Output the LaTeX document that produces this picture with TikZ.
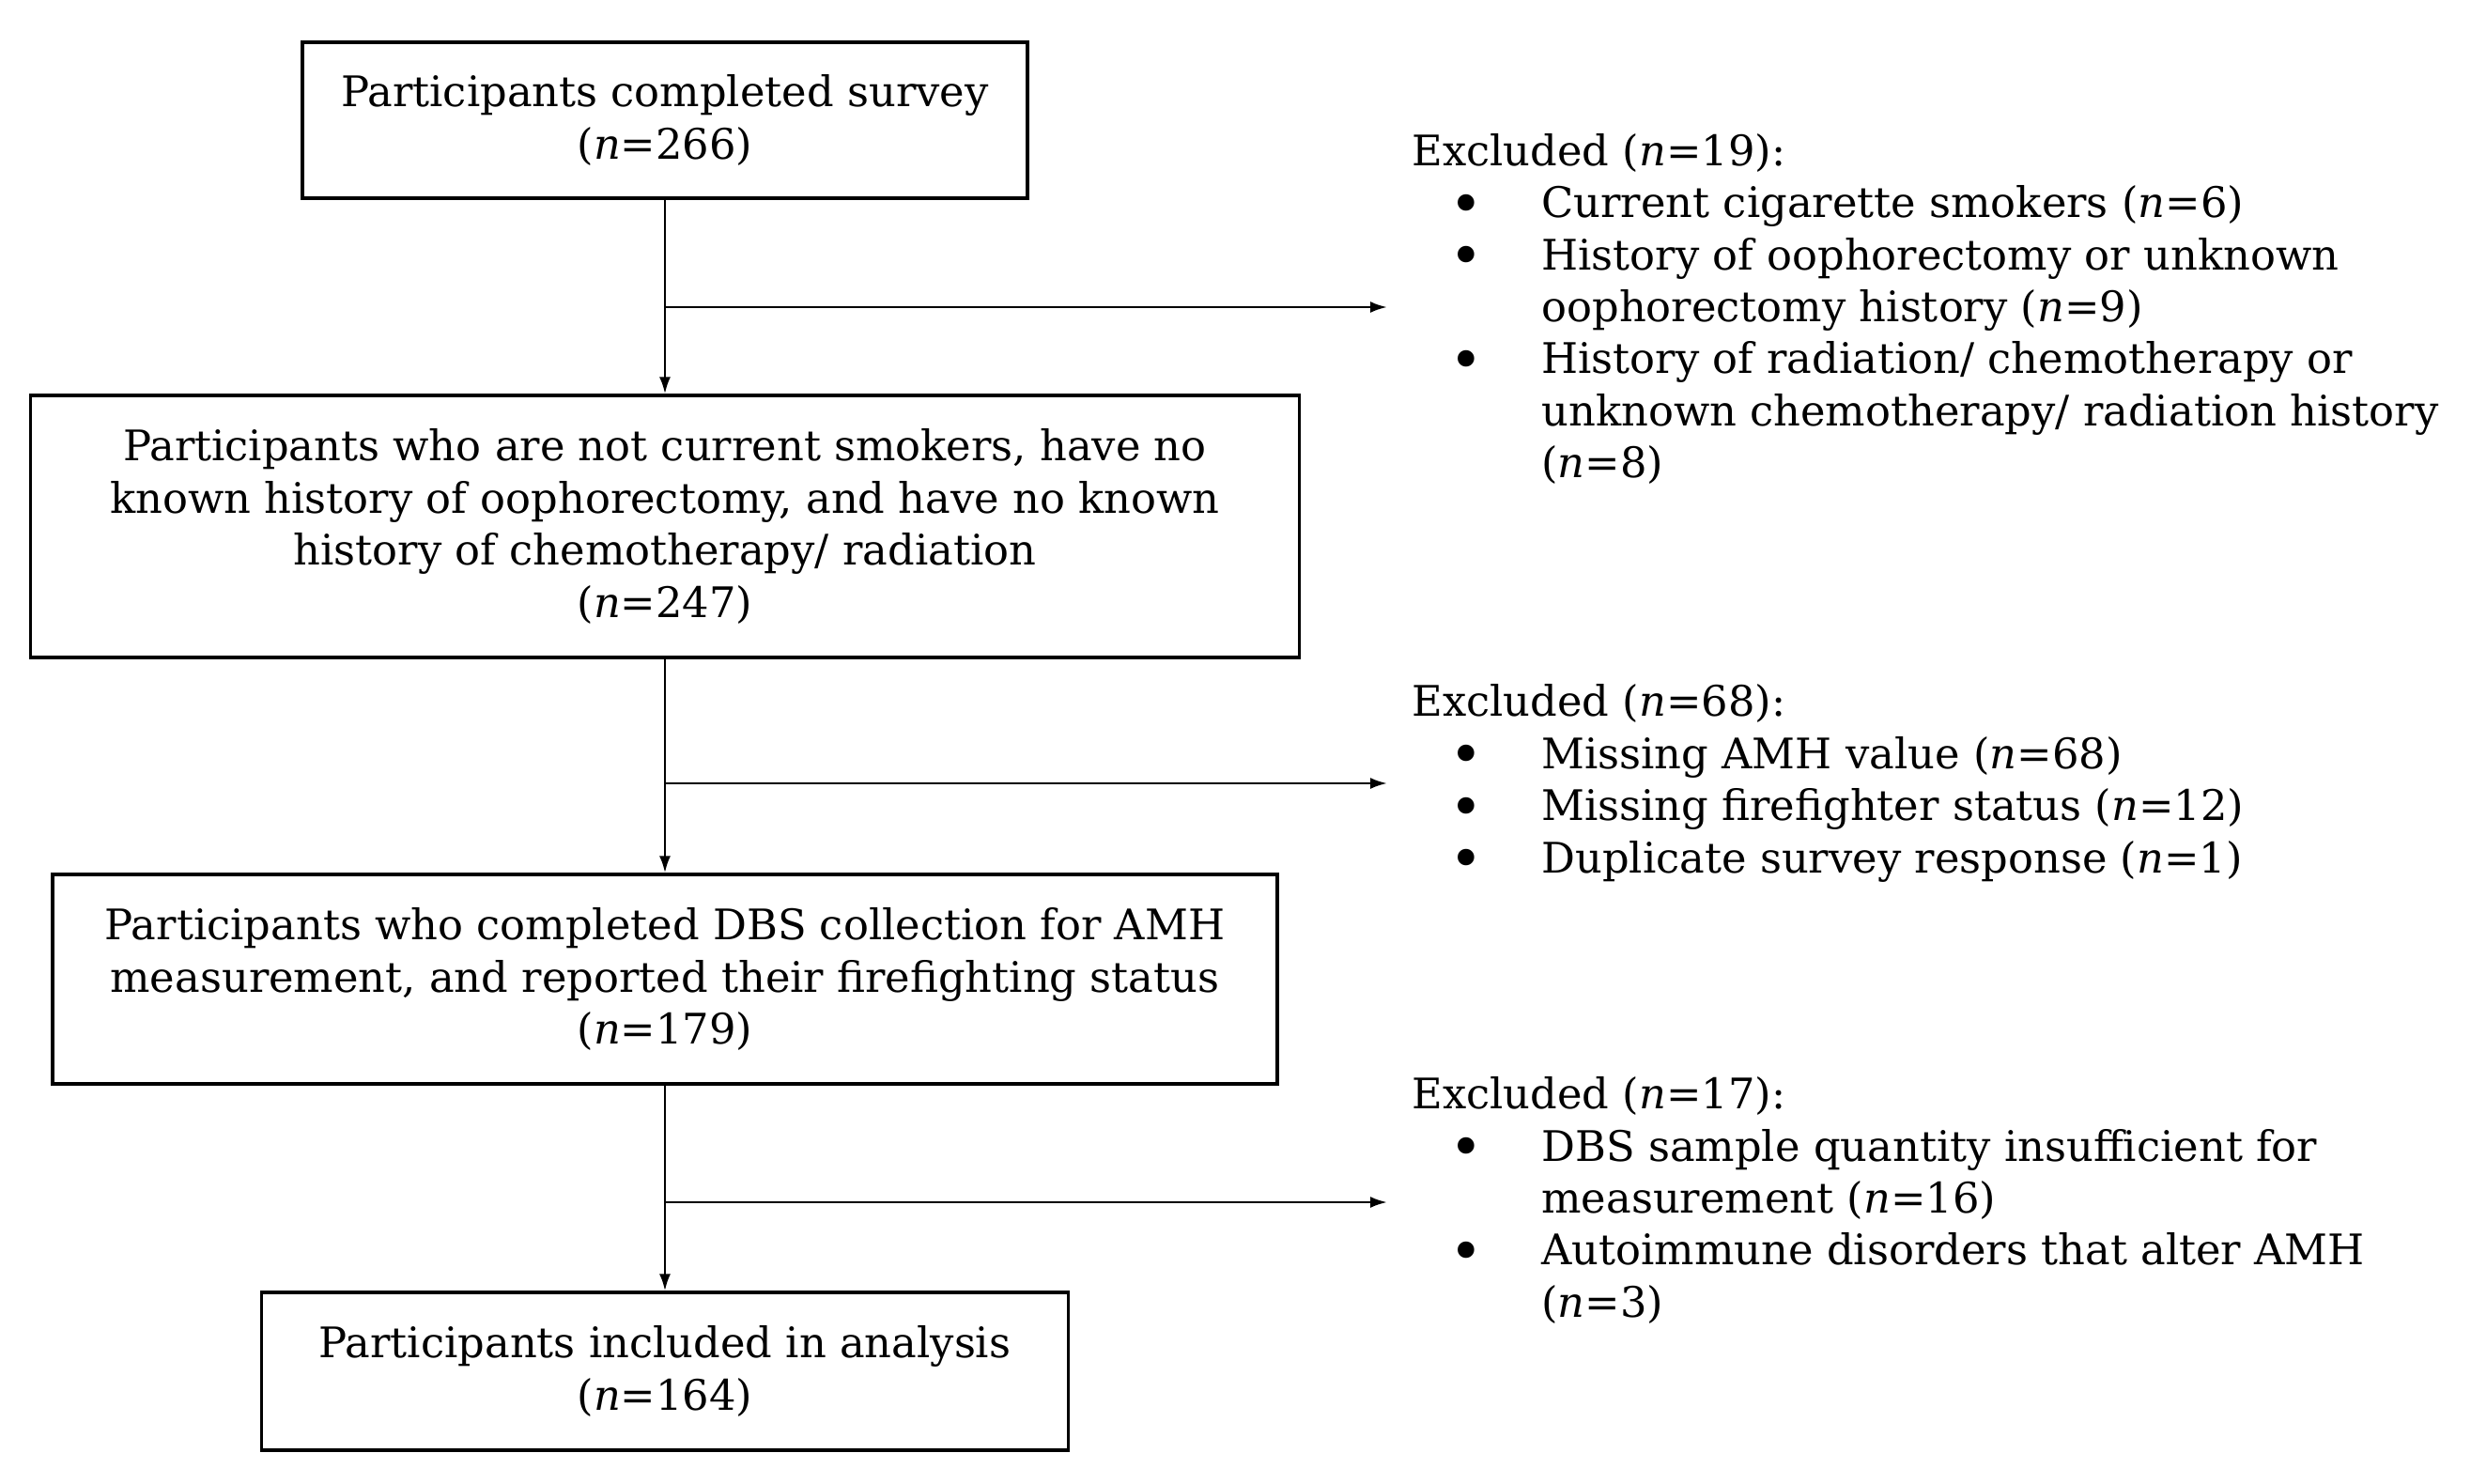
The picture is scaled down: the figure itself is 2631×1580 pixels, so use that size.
\documentclass[tikz,border=0pt]{standalone}
\usepackage{fontspec}
\setmainfont{DejaVu Serif}
\usetikzlibrary{arrows.meta}
\newcommand\exbul{\hspace*{29pt}\makebox[0pt]{\raisebox{-3.2pt}{\scalebox{1.35}{\textbullet}}}\hspace*{40pt}}
\newcommand\exind{\hspace*{69pt}}
\begin{document}
\begin{tikzpicture}[x=0.5pt,y=-0.5pt,
  txt/.style={font=\fontsize{22.4}{27.7}\selectfont},
  box/.style={draw, line width=1.6pt, inner sep=0pt, align=center, txt},
  excl/.style={anchor=west, inner xsep=13pt, inner ysep=0pt, align=left, txt},
  conn/.style={line width=1.3pt, -{Latex[length=9pt,width=6pt]}}]
\fill[white] (0,0) rectangle (2631,1580);
\useasboundingbox (0,0) rectangle (2631,1580);

\node[box, minimum width=386pt, minimum height=83pt] (b1) at (708,128)
  {Participants completed survey\\(\textit{n}=266)};
\node[box, minimum width=675.5pt, minimum height=139.5pt] (b2) at (708,560.5)
  {Participants who are not current smokers, have no\\known history of oophorectomy, and have no known\\history of chemotherapy/ radiation\\(\textit{n}=247)};
\node[box, minimum width=652pt, minimum height=111.5pt] (b3) at (708,1042.5)
  {Participants who completed DBS collection for AMH\\measurement, and reported their firefighting status\\(\textit{n}=179)};
\node[box, minimum width=429.5pt, minimum height=84pt] (b4) at (708,1460)
  {Participants included in analysis\\(\textit{n}=164)};

\coordinate (y1) at (0,327);
\coordinate (y2) at (0,834);
\coordinate (y3) at (0,1280);
\coordinate (j1) at (b1.south |- y1);
\coordinate (j2) at (b2.south |- y2);
\coordinate (j3) at (b3.south |- y3);

\node[excl] (e1) at (1477,329)
  {Excluded (\textit{n}=19):\\
   \exbul Current cigarette smokers (\textit{n}=6)\\
   \exbul History of oophorectomy or unknown\\
   \exind oophorectomy history (\textit{n}=9)\\
   \exbul History of radiation/ chemotherapy or\\
   \exind unknown chemotherapy/ radiation history\\
   \exind (\textit{n}=8)};
\node[excl] (e2) at (1477,834)
  {Excluded (\textit{n}=68):\\
   \exbul Missing AMH value (\textit{n}=68)\\
   \exbul Missing firefighter status (\textit{n}=12)\\
   \exbul Duplicate survey response (\textit{n}=1)};
\node[excl] (e3) at (1477,1278)
  {Excluded (\textit{n}=17):\\
   \exbul DBS sample quantity insufficient for\\
   \exind measurement (\textit{n}=16)\\
   \exbul Autoimmune disorders that alter AMH\\
   \exind (\textit{n}=3)};

\draw[conn] (b1.south) -- (b2.north);
\draw[conn] (b2.south) -- (b3.north);
\draw[conn] (b3.south) -- (b4.north);
\draw[conn] (j1) -- (j1 -| e1.west);
\draw[conn] (j2) -- (j2 -| e2.west);
\draw[conn] (j3) -- (j3 -| e3.west);
\end{tikzpicture}
\end{document}
